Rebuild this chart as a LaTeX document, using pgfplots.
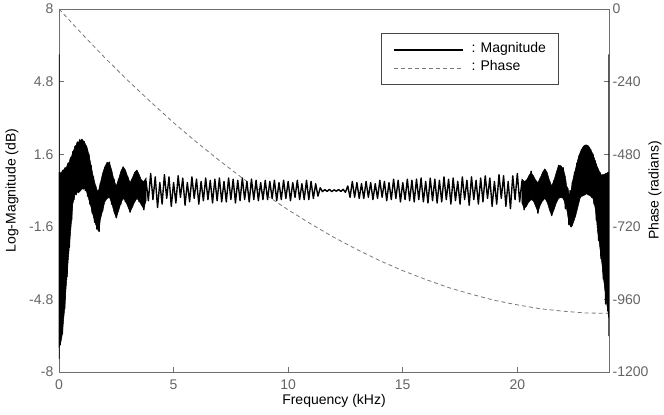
\documentclass[border=0pt]{standalone}
\usepackage{fontspec}
\setmainfont{Liberation Sans}
\usepackage{pgfplots}
\pgfplotsset{compat=1.18}
\definecolor{axgray}{RGB}{110,110,110}
\definecolor{labgray}{RGB}{100,100,100}
\definecolor{phasegray}{RGB}{120,120,120}
\definecolor{leggray}{RGB}{70,70,70}
\newcommand\fs{\fontsize{14bp}{16.8bp}\selectfont}
\begin{document}
\begin{tikzpicture}
\useasboundingbox (-59bp,-43bp) rectangle (605bp,372bp);
% ---------- phase axis (right) ----------
\begin{axis}[
 at={(0,0)}, anchor=south west, scale only axis, width=550bp, height=363bp,
 xmin=0, xmax=24, ymin=-1200, ymax=0,
 axis x line=none, axis y line*=right,
 axis line style={axgray, line width=0.8bp},
 ytick={-1200,-960,-720,-480,-240,0},
 yticklabels={-1200,-960,-720,-480,-240,0},
 tick align=inside, major tick length=5bp,
 major tick style={axgray, line width=0.8bp},
 yticklabel style={font=\fs, text=labgray, inner sep=0pt, anchor=west, xshift=3.5bp},
 ylabel={Phase (radians)},
 every axis y label/.style={at={(axis description cs:1.0835,0.5)}, rotate=90, anchor=center, inner sep=0pt, font=\fs},
]
\addplot[phasegray, line width=0.8bp, dash pattern=on 4bp off 3bp] coordinates {
(0,0) (1,-82) (2,-161) (3,-236) (4,-307) (5,-376) (6,-440) (7,-501) (8,-559) (9,-613) (10,-664) (11,-711) (12,-755) (13,-795) (14,-832) (15,-865) (16,-894) (17,-921) (18,-943) (19,-963) (20,-978) (21,-991) (22,-999) (23,-1005) (24,-1006)};
\end{axis}
% ---------- magnitude axis (left) ----------
\begin{axis}[
 at={(0,0)}, anchor=south west, scale only axis, width=550bp, height=363bp,
 xmin=0, xmax=24, ymin=-8, ymax=8,
 xtick pos=left, ytick pos=left,
 axis line style={axgray, line width=0.8bp},
 xtick={0,5,10,15,20}, xticklabels={0,5,10,15,20},
 ytick={-8,-4.8,-1.6,1.6,4.8,8}, yticklabels={-8,-4.8,-1.6,1.6,4.8,8},
 tick align=inside, major tick length=5bp,
 major tick style={axgray, line width=0.8bp},
 xticklabel style={font=\fs, text=labgray, inner sep=0pt, anchor=north, yshift=-8bp},
 yticklabel style={font=\fs, text=labgray, inner sep=0pt, anchor=east, xshift=-5.5bp},
 xlabel={Frequency (kHz)}, ylabel={Log-Magnitude (dB)},
 every axis x label/.style={at={(axis description cs:0.5,-0.08)}, anchor=center, font=\fs},
 every axis y label/.style={at={(axis description cs:-0.0855,0.5)}, rotate=90, anchor=center, font=\fs},
 legend style={at={(axis description cs:0.585,0.933)}, anchor=north west, draw=leggray, line width=0.8bp, fill=white, font=\fs, inner xsep=12bp, inner ysep=11.5bp, row sep=9bp, column sep=8bp, nodes={inner sep=0pt, text height=0.72em, text depth=0.2em}},
 legend cell align=left,
 legend image code/.code={\draw[#1] (0bp,0bp) -- (69bp,0bp);},
]
\addplot[black, line width=1.4bp, line join=round] coordinates {
(0,6.0) (0,-7.4) (0.02,0.8) (0.05,-6.8) (0.1,0.8) (0.15,-6.3) (0.2,0.9) (0.25,-5.2) (0.3,1.0) (0.35,-3.8) (0.4,1.2) (0.45,-2.5) (0.5,1.4) (0.55,-1.3) (0.6,1.7) (0.65,-0.4) (0.7,1.95) (0.75,-0.15) (0.8,2.1) (0.85,-0.05) (0.9,2.2) (0.95,0.05) (1.0,2.25) (1.05,0.1) (1.1,2.15) (1.15,0.0) (1.2,1.95) (1.25,-0.25) (1.3,1.6) (1.35,-0.6) (1.4,1.1) (1.45,-1.0) (1.5,0.6) (1.55,-1.4) (1.6,0.2) (1.65,-1.7) (1.7,0.0) (1.75,-1.8) (1.8,0.3)
(1.9,-0.9) (2.0,1.0) (2.1,-0.3) (2.2,1.25) (2.3,-0.6) (2.4,0.5) (2.5,-1.2) (2.6,0.5) (2.7,-0.6) (2.8,1.0) (2.9,-0.5) (3.0,0.6) (3.1,-0.95) (3.2,0.5) (3.3,-0.5) (3.4,0.85) (3.5,-0.5) (3.6,0.45) (3.7,-0.85) (3.8,0.4) (3.9,-0.45) (4.0,0.75) (4.1,-0.4) (4.2,0.6) (4.3,-0.75) (4.4,0.35) (4.5,-0.6) (4.6,0.7) (4.7,-0.35) (4.8,0.6) (4.9,-0.7) (5.0,0.35) (5.1,-0.55) (5.2,0.65) (5.3,-0.3) (5.4,0.55) (5.5,-0.65) (5.6,0.35) (5.7,-0.5) (5.8,0.6) (5.9,-0.35) (6.0,0.5) (6.1,-0.6) (6.2,0.4) (6.3,-0.45) (6.4,0.55) (6.5,-0.4) (6.6,0.45) (6.7,-0.55) (6.8,0.5) (6.9,-0.45) (7.0,0.55) (7.1,-0.5) (7.2,0.4) (7.3,-0.5) (7.4,0.55) (7.5,-0.4) (7.6,0.5) (7.7,-0.55) (7.8,0.45) (7.9,-0.45) (8.0,0.55) (8.1,-0.4) (8.2,0.4) (8.3,-0.5) (8.4,0.5) (8.5,-0.4) (8.6,0.45) (8.7,-0.45) (8.8,0.35) (8.9,-0.4) (9.0,0.45) (9.1,-0.4) (9.2,0.4) (9.3,-0.35) (9.4,0.45) (9.5,-0.45) (9.6,0.35) (9.7,-0.4) (9.8,0.45) (9.9,-0.35) (10.0,0.4) (10.1,-0.45) (10.2,0.35) (10.3,-0.3) (10.4,0.45) (10.5,-0.4) (10.6,0.3) (10.7,-0.4) (10.8,0.45) (10.9,-0.4) (11.0,0.4) (11.1,-0.35) (11.2,0.3) (11.3,-0.25) (11.4,0.12) (11.5,-0.05) (11.6,0.04) (11.7,-0.04) (11.8,0.05) (11.9,-0.05) (12.0,0.03) (12.1,-0.03) (12.2,0.04) (12.3,-0.04) (12.4,0.05) (12.5,-0.08) (12.6,0.2) (12.7,-0.3) (12.8,0.4)
(12.9,-0.3) (13.0,0.35) (13.1,-0.35) (13.2,0.3) (13.3,-0.35) (13.4,0.4) (13.5,-0.3) (13.6,0.35) (13.7,-0.4) (13.8,0.3) (13.9,-0.35) (14.0,0.45) (14.1,-0.3) (14.2,0.4) (14.3,-0.45) (14.4,0.35) (14.5,-0.4) (14.6,0.5) (14.7,-0.35) (14.8,0.45) (14.9,-0.5) (15.0,0.35) (15.1,-0.4) (15.2,0.5) (15.3,-0.45) (15.4,0.45) (15.5,-0.5) (15.6,0.5) (15.7,-0.4) (15.8,0.55) (15.9,-0.5) (16.0,0.4) (16.1,-0.55) (16.2,0.55) (16.3,-0.45) (16.4,0.5) (16.5,-0.55) (16.6,0.45) (16.7,-0.5) (16.8,0.6) (16.9,-0.4) (17.0,0.5) (17.1,-0.6) (17.2,0.55) (17.3,-0.45) (17.4,0.4) (17.5,-0.6) (17.6,0.6) (17.7,-0.4) (17.8,0.45) (17.9,-0.65) (18.0,0.6) (18.1,-0.4) (18.2,0.45) (18.3,-0.6) (18.4,0.55) (18.5,-0.5) (18.6,0.65) (18.7,-0.35) (18.8,0.55) (18.9,-0.7) (19.0,0.4) (19.1,-0.6) (19.2,0.7) (19.3,-0.35) (19.4,0.65) (19.5,-0.7) (19.6,0.4) (19.7,-0.8) (19.8,0.65) (19.9,-0.4) (20.0,0.75) (20.1,-0.5) (20.2,0.4) (20.3,-0.85) (20.4,0.45) (20.5,-0.5) (20.6,0.85) (20.7,-0.45) (20.8,0.45) (20.9,-1.0) (21.0,0.55) (21.1,-0.45) (21.2,0.9) (21.3,-0.5) (21.4,0.4) (21.5,-1.1) (21.6,0.45) (21.7,-0.5) (21.8,1.1) (21.9,-0.3) (22.0,1.0) (22.1,-0.8)
(22.2,0.1) (22.25,-1.5) (22.3,0.0) (22.35,-1.6) (22.4,0.35) (22.45,-1.2) (22.5,0.8) (22.55,-0.8) (22.6,1.2) (22.65,-0.5) (22.7,1.55) (22.75,-0.3) (22.8,1.8) (22.85,-0.2) (22.9,1.95) (22.95,-0.15) (23.0,2.0) (23.05,-0.15) (23.1,1.95) (23.15,-0.2) (23.2,1.8) (23.25,-0.3) (23.3,1.6) (23.35,-0.6) (23.4,1.3) (23.45,-1.3) (23.5,1.0) (23.55,-2.2) (23.6,0.8) (23.65,-3.0) (23.7,0.7) (23.75,-3.9) (23.8,0.7) (23.85,-5.0) (23.9,0.75) (23.95,-5.3) (23.98,0.8) (24,-6.4) (24,6.0)};
\addlegendentry{: Magnitude}
% solid lobes at the low-frequency edge
\addplot[fill=black, draw=black, line width=0.5bp, forget plot] coordinates {
(0,0.8) (0.1,0.75) (0.15,0.9) (0.2,0.85) (0.25,1.0) (0.3,0.95) (0.35,1.1) (0.4,1.2) (0.45,1.25) (0.5,1.45) (0.55,1.5) (0.6,1.7) (0.65,1.8) (0.7,1.95) (0.75,2.0) (0.8,2.15) (0.85,2.1) (0.9,2.25) (0.95,2.2) (1.0,2.25) (1.05,2.2) (1.1,2.15) (1.15,2.05) (1.2,1.95) (1.25,1.8) (1.3,1.6) (1.35,1.35) (1.4,1.1) (1.45,0.85) (1.5,0.6) (1.55,0.4) (1.6,0.2) (1.65,0.05) (1.7,-0.1) (1.75,0.1) (1.8,0.3)
(1.9,0.75) (2.0,1.05) (2.1,1.25) (2.2,1.2) (2.3,0.9) (2.4,0.45) (2.5,0.2) (2.6,0.5) (2.7,0.85) (2.8,1.05) (2.9,0.9) (3.0,0.6) (3.1,0.35) (3.2,0.55) (3.3,0.8) (3.4,0.9) (3.5,0.7) (3.6,0.45) (3.7,0.4) (3.8,0.55)
(3.8,-0.45) (3.7,-0.8) (3.6,-0.65) (3.5,-0.45) (3.4,-0.35) (3.3,-0.5) (3.2,-0.75) (3.1,-0.95) (3.0,-0.7) (2.9,-0.45) (2.8,-0.35) (2.7,-0.55) (2.6,-0.9) (2.5,-1.2) (2.4,-0.95) (2.3,-0.55) (2.2,-0.3) (2.1,-0.35) (2.0,-0.5) (1.9,-0.9)
(1.8,-1.3) (1.75,-1.8) (1.7,-1.75) (1.65,-1.6) (1.6,-1.5) (1.55,-1.3) (1.5,-1.15) (1.45,-0.95) (1.4,-0.75) (1.35,-0.55) (1.3,-0.4) (1.25,-0.2) (1.2,-0.05) (1.15,0.05) (1.1,0.1) (1.05,0.05) (1.0,0.1) (0.95,0.0) (0.9,-0.05) (0.85,-0.1) (0.8,-0.05) (0.75,-0.2) (0.7,-0.15) (0.65,-0.4) (0.6,-0.6) (0.55,-1.3) (0.5,-1.9) (0.45,-2.5) (0.4,-3.1) (0.35,-3.8) (0.3,-4.4) (0.25,-5.2) (0.2,-5.7) (0.15,-6.3) (0.1,-6.6) (0.05,-6.8) (0,-6.9)} -- cycle;
% solid lobes at the high-frequency edge
\addplot[fill=black, draw=black, line width=0.5bp, forget plot] coordinates {
(20.2,0.5) (20.3,0.4) (20.4,0.45) (20.5,0.65) (20.6,0.8) (20.7,0.65) (20.8,0.45) (20.9,0.35) (21.0,0.55) (21.1,0.8) (21.2,0.95) (21.3,0.8) (21.4,0.45) (21.5,0.2) (21.6,0.45) (21.7,0.8) (21.8,1.1) (21.9,1.1) (22.0,0.95) (22.1,0.6)
(22.15,0.2) (22.2,0.1) (22.25,-0.2) (22.3,-0.3) (22.35,0.0) (22.4,0.35) (22.45,0.6) (22.5,0.8) (22.55,1.0) (22.6,1.2) (22.65,1.4) (22.7,1.55) (22.75,1.7) (22.8,1.8) (22.85,1.9) (22.9,1.95) (22.95,2.0) (23.0,2.0) (23.05,2.0) (23.1,1.95) (23.15,1.9) (23.2,1.8) (23.25,1.7) (23.3,1.6) (23.35,1.45) (23.4,1.3) (23.45,1.15) (23.5,1.0) (23.55,0.9) (23.6,0.8) (23.65,0.7) (23.7,0.65) (23.75,0.7) (23.8,0.7) (23.85,0.75) (23.9,0.75) (23.95,0.8) (23.98,0.8)
(23.98,-5.6) (23.95,-5.3) (23.9,-5.0) (23.85,-4.6) (23.8,-4.2) (23.75,-3.8) (23.7,-3.3) (23.65,-2.9) (23.6,-2.5) (23.55,-2.1) (23.5,-1.8) (23.45,-1.2) (23.4,-0.8) (23.35,-0.55) (23.3,-0.35) (23.25,-0.3) (23.2,-0.25) (23.15,-0.2) (23.1,-0.2) (23.05,-0.15) (23.0,-0.15) (22.95,-0.2) (22.9,-0.2) (22.85,-0.25) (22.8,-0.25) (22.75,-0.3) (22.7,-0.5) (22.65,-0.7) (22.6,-0.9) (22.55,-1.1) (22.5,-1.25) (22.45,-1.4) (22.4,-1.55) (22.35,-1.6) (22.3,-1.55) (22.25,-1.4) (22.2,-1.1) (22.15,-0.8)
(22.1,-0.6) (22.0,-0.35) (21.9,-0.3) (21.8,-0.35) (21.7,-0.55) (21.6,-0.85) (21.5,-1.1) (21.4,-0.85) (21.3,-0.5) (21.2,-0.35) (21.1,-0.45) (21.0,-0.65) (20.9,-0.95) (20.8,-0.7) (20.7,-0.45) (20.6,-0.4) (20.5,-0.5) (20.4,-0.7) (20.3,-0.8) (20.2,-0.55)} -- cycle;
\addlegendimage{phasegray, line width=0.8bp, dash pattern=on 4bp off 3bp}
\addlegendentry{: Phase}
\end{axis}
\end{tikzpicture}
\end{document}
